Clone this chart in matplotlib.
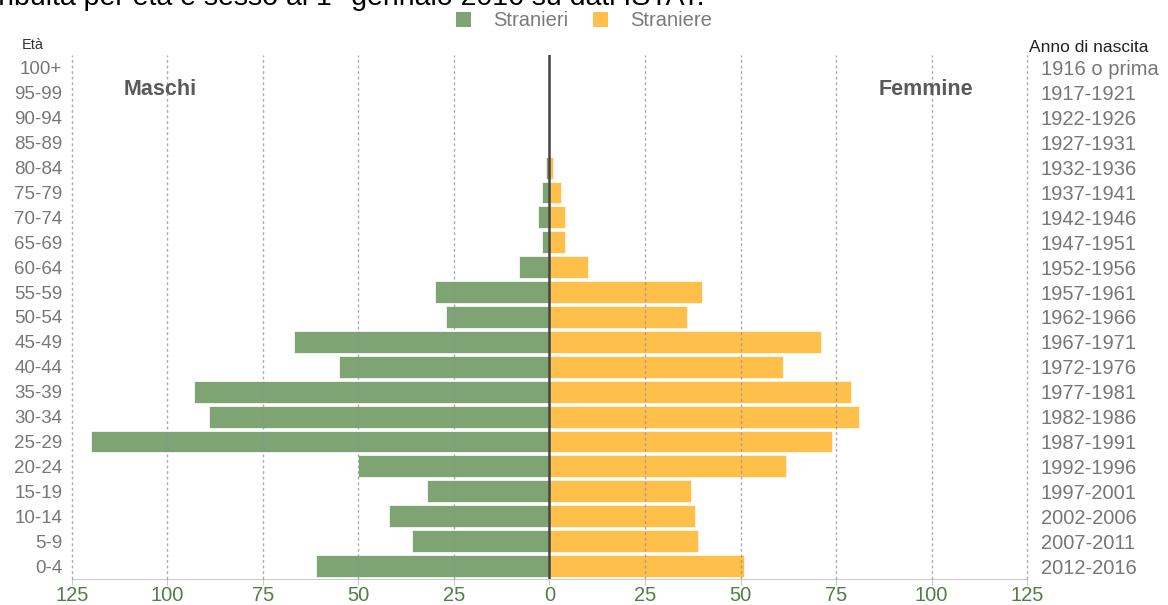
import matplotlib.pyplot as plt
from matplotlib.patches import Patch

plt.rcParams['font.family'] = ['Liberation Sans', 'DejaVu Sans']

# classi di età dal basso verso l'alto
eta = ['0-4', '5-9', '10-14', '15-19', '20-24', '25-29', '30-34', '35-39',
       '40-44', '45-49', '50-54', '55-59', '60-64', '65-69', '70-74',
       '75-79', '80-84', '85-89', '90-94', '95-99', '100+']
anni = ['2012-2016', '2007-2011', '2002-2006', '1997-2001', '1992-1996',
        '1987-1991', '1982-1986', '1977-1981', '1972-1976', '1967-1971',
        '1962-1966', '1957-1961', '1952-1956', '1947-1951', '1942-1946',
        '1937-1941', '1932-1936', '1927-1931', '1922-1926', '1917-1921',
        '1916 o prima']
stranieri = [61, 36, 42, 32, 50, 120, 89, 93, 55, 67, 27, 30, 8, 2, 3, 2, 1,
             0, 0, 0, 0]
straniere = [51, 39, 38, 37, 62, 74, 81, 79, 61, 71, 36, 40, 10, 4, 4, 3, 1,
             0, 0, 0, 0]
tacche = [-125, -100, -75, -50, -25, 0, 25, 50, 75, 100, 125]

verde = '#7ea473'
arancio = '#ffc04b'

fig = plt.figure(figsize=(11.68, 6.05), dpi=100)
ax = fig.add_axes([0.0616, 0.0438, 0.8177, 0.8645])

y = range(len(eta))
ax.barh(y, [-v for v in stranieri], height=0.88, color=verde,
        edgecolor='#f4f8f2', linewidth=0.6, zorder=2)
ax.barh(y, straniere, height=0.88, color=arancio,
        edgecolor='#fff6e6', linewidth=0.6, zorder=2)

for t in tacche:
    if t != 0:
        ax.axvline(t, color='#8f8f8f', lw=1, ls=(0, (2, 2)), alpha=0.75,
                   zorder=3, clip_on=False)
ax.axvline(0, color='#444444', lw=1.8, zorder=4)

ax.set_xlim(-125, 125)
ax.set_ylim(-0.5, len(eta) - 0.5)
ax.set_xticks(tacche)
ax.set_xticklabels([str(abs(t)) for t in tacche], color='#4e8043',
                   fontsize=14.5)
ax.tick_params(axis='x', length=4, color='#cccccc', pad=1.5)
ax.set_yticks(list(y))
ax.set_yticklabels(eta, color='#777777', fontsize=13.5)
ax.tick_params(axis='y', length=0, pad=7)

for s in ['top', 'right', 'left']:
    ax.spines[s].set_visible(False)
ax.spines['bottom'].set_color('#cccccc')

ax2 = ax.twinx()
ax2.set_ylim(ax.get_ylim())
ax2.set_yticks(list(y))
ax2.set_yticklabels(anni, color='#777777', fontsize=14.5)
ax2.tick_params(axis='y', length=0, pad=10)
for s in ax2.spines.values():
    s.set_visible(False)

ax.text(-102, 19.15, 'Maschi', ha='center', va='center', fontsize=15.5,
        fontweight='bold', color='#5a5a5a')
ax.text(98.5, 19.15, 'Femmine', ha='center', va='center', fontsize=15.5,
        fontweight='bold', color='#5a5a5a')

fig.text(33 / 1168, 1 - 45 / 605, 'Età', ha='center', va='center',
         fontsize=10.5, color='#333333')
fig.text(1029 / 1168, 1 - 47 / 605, 'Anno di nascita', ha='left',
         va='center', fontsize=12.5, color='#222222')

# titolo tagliato in alto
fig.text(705 / 1168, 1 - 5 / 605,
         'Popolazione straniera residente distribuita per età e sesso '
         'al 1° gennaio 2016 su dati ISTAT.',
         ha='right', va='baseline', fontsize=20.5, color='black')

maniglie = [Patch(facecolor=verde, label='Stranieri'),
            Patch(facecolor=arancio, label='Straniere')]
leg = fig.legend(handles=maniglie, loc='center', ncol=2,
                 bbox_to_anchor=(584 / 1168, 1 - 21 / 605), frameon=False,
                 fontsize=14.5, handlelength=0.75, handleheight=0.75,
                 columnspacing=1.25, handletextpad=1.1)
for t in leg.get_texts():
    t.set_color('#7a7a7a')

fig.savefig('out.png', dpi=100)
